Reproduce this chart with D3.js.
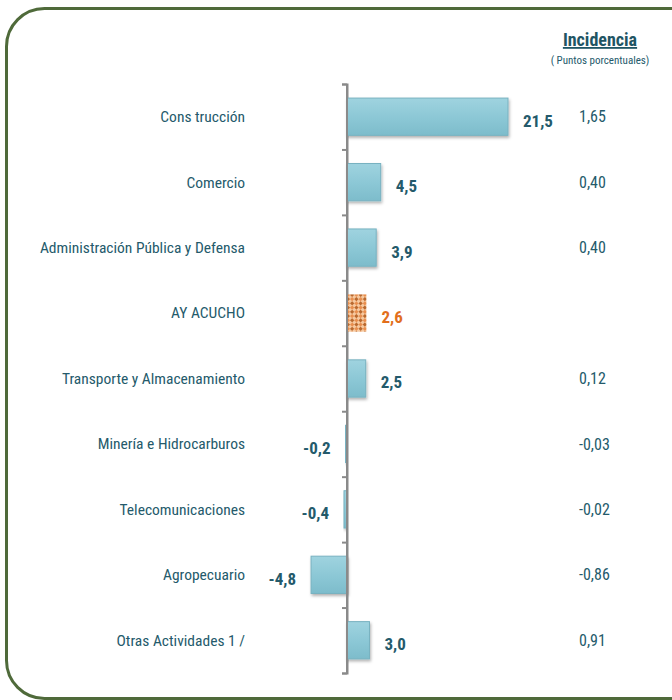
<!DOCTYPE html>
<html><head><meta charset="utf-8">
<script src="https://cdn.jsdelivr.net/npm/d3@7"></script>
<style>
html,body{margin:0;padding:0;background:#fff;}
svg{display:block;}
</style></head>
<body>
<script>
const categories = ["Construcción","Comercio","Administración Pública y Defensa","AYACUCHO","Transporte y Almacenamiento","Minería e Hidrocarburos","Telecomunicaciones","Agropecuario","Otras Actividades 1 /"];
const labels = ["Cons trucción","Comercio","Administración Pública y Defensa","AY ACUCHO","Transporte y Almacenamiento","Minería e Hidrocarburos","Telecomunicaciones","Agropecuario","Otras Actividades 1 /"];
const values = [21.5,4.5,3.9,2.6,2.5,-0.2,-0.4,-4.8,3.0];
const incidencia = ["1,65","0,40","0,40",null,"0,12","-0,03","-0,02","-0,86","0,91"];
const highlight = "AYACUCHO";

const W=672,H=700;
const svg=d3.select("body").append("svg").attr("width",W).attr("height",H);
const defs=svg.append("defs");
const f=defs.append("filter").attr("id","sh").attr("x","-30%").attr("y","-30%").attr("width","160%").attr("height","160%");
f.append("feDropShadow").attr("dx",1).attr("dy",2).attr("stdDeviation",1.5).attr("flood-color","#000").attr("flood-opacity",0.3);
const g=defs.append("linearGradient").attr("id","bg").attr("x1",0).attr("y1",0).attr("x2",0).attr("y2",1);
g.append("stop").attr("offset","0%").attr("stop-color","#9fd3df");
g.append("stop").attr("offset","55%").attr("stop-color","#8bc7d5");
g.append("stop").attr("offset","100%").attr("stop-color","#7dbccb");
const p=defs.append("pattern").attr("id","chk").attr("width",6).attr("height",6).attr("patternUnits","userSpaceOnUse").attr("patternTransform","rotate(45)");
p.append("rect").attr("width",6).attr("height",6).attr("fill","#f6c9a0");
p.append("rect").attr("width",3).attr("height",3).attr("fill","#b9692f");
p.append("rect").attr("x",3).attr("y",3).attr("width",3).attr("height",3).attr("fill","#e98f4f");

// frame
svg.append("rect").attr("x",6.5).attr("y",8.5).attr("width",720).attr("height",690).attr("rx",38).attr("ry",38)
  .attr("fill","#fff").attr("stroke","#4f6a3a").attr("stroke-width",3);

const x=d3.scaleLinear().domain([0,21.5]).range([347,508]);
const y=d3.scaleBand().domain(categories).range([84,673]).paddingInner(0.43).paddingOuter(0.215);
const font="'Liberation Sans Narrow','Roboto Condensed','Arial Narrow',sans-serif";
const dark="#245a6b";

// axis
const ax=d3.axisLeft(d3.scaleLinear().domain([0,1]).range([84,673])).tickValues(d3.range(0,10).map(i=>i/9)).tickSize(5).tickFormat("");
const axg=svg.append("g").attr("transform","translate(347,0)").call(ax);
axg.selectAll("path,line").attr("stroke","#8a8a8a").attr("stroke-width",2);

// bars
svg.selectAll("rect.bar").data(categories).join("rect").attr("class","bar")
  .attr("x",(d,i)=>Math.min(x(0),x(values[i])))
  .attr("y",d=>y(d)+ (d===highlight?0:0))
  .attr("width",(d,i)=>Math.abs(x(values[i])-x(0)))
  .attr("height",y.bandwidth())
  .attr("fill",d=>d===highlight?"url(#chk)":"url(#bg)")
  .attr("stroke",d=>d===highlight?"none":"#78b2c1").attr("stroke-width",1)
  .attr("filter",d=>d===highlight?null:"url(#sh)");

// redraw axis line above bars
svg.append("line").attr("x1",347).attr("x2",347).attr("y1",84).attr("y2",673).attr("stroke","#8a8a8a").attr("stroke-width",2);

const fmt=v=>d3.format(".1f")(v).replace(".",",").replace("−","-");
// value labels
svg.selectAll("text.val").data(categories).join("text").attr("class","val")
  .attr("x",(d,i)=>values[i]>=0?x(values[i])+15:x(values[i])-15)
  .attr("y",d=>y(d)+y.bandwidth()/2+4)
  .attr("dy","0.35em")
  .attr("text-anchor",(d,i)=>values[i]>=0?"start":"end")
  .attr("font-family",font).attr("font-weight","bold").attr("font-size",17)
  .attr("fill",d=>d===highlight?"#e26f1c":dark)
  .text((d,i)=>fmt(values[i]));

// category labels
svg.selectAll("text.cat").data(categories).join("text").attr("class","cat")
  .attr("x",245).attr("y",d=>y(d)+y.bandwidth()/2)
  .attr("dy","0.35em").attr("text-anchor","end")
  .attr("font-family",font).attr("font-size",15.5).attr("fill",dark)
  .text((d,i)=>labels[i]);

// incidence
svg.selectAll("text.inc").data(categories).join("text").attr("class","inc")
  .attr("x",579).attr("y",d=>y(d)+y.bandwidth()/2)
  .attr("dy","0.35em").attr("text-anchor","start")
  .attr("font-family",font).attr("font-size",16).attr("fill",dark)
  .text((d,i)=>incidencia[i]||"");

// header
svg.append("text").attr("x",600).attr("y",46).attr("text-anchor","middle")
  .attr("font-family",font).attr("font-weight","bold").attr("font-size",18).attr("fill","#1f5564")
  .attr("text-decoration","underline").text("Incidencia");
svg.append("text").attr("x",600).attr("y",64).attr("text-anchor","middle")
  .attr("font-family",font).attr("font-size",11).attr("fill",dark).text("( Puntos porcentuales)");
</script>
</body></html>
